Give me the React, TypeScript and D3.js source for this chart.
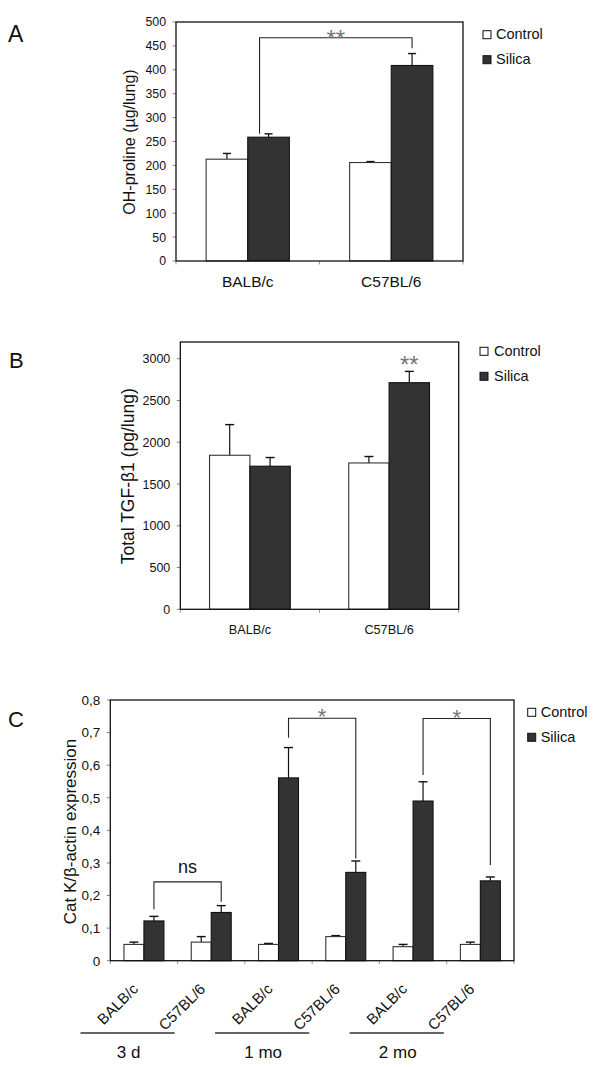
import React from "react";
import * as d3 from "d3";

// ---------- data ----------
const seriesNames = ["Control", "Silica"];

// Panel A: OH-proline
const strainsA = ["BALB/c", "C57BL/6"];
const hypControl = [213, 206];
const hypControlErr = [12, 2];
const hypSilica = [259, 409];
const hypSilicaErr = [7, 25];
const hypTicks = [0, 50, 100, 150, 200, 250, 300, 350, 400, 450, 500];
const hypTickLabels = ["0", "50", "100", "150", "200", "250", "300", "350", "400", "450", "500"];
const hypBrackets = [{ from: 0, to: 1, top: 467, leftEnd: 266, rightEnd: 445, label: "**" }];

// Panel B: TGF-beta1
const strainsB = ["BALB/c", "C57BL/6"];
const tgfControl = [1844, 1752];
const tgfControlErr = [367, 77];
const tgfSilica = [1713, 2713];
const tgfSilicaErr = [104, 135];
const tgfTicks = [0, 500, 1000, 1500, 2000, 2500, 3000];
const tgfTickLabels = ["0", "500", "1000", "1500", "2000", "2500", "3000"];
const tgfStars = [{ cat: 1, value: 3004, label: "**" }];

// Panel C: Cat K
const catKStrains = ["BALB/c", "C57BL/6", "BALB/c", "C57BL/6", "BALB/c", "C57BL/6"];
const catKTimes = ["3 d", "1 mo", "2 mo"];
const catKControl = [0.05, 0.057, 0.05, 0.074, 0.043, 0.05];
const catKControlErr = [0.007, 0.017, 0.003, 0.003, 0.007, 0.007];
const catKSilica = [0.122, 0.148, 0.561, 0.271, 0.49, 0.245];
const catKSilicaErr = [0.014, 0.021, 0.093, 0.035, 0.059, 0.012];
const catKTicks = [0, 0.1, 0.2, 0.3, 0.4, 0.5, 0.6, 0.7, 0.8];
const catKTickLabels = ["0", "0,1", "0,2", "0,3", "0,4", "0,5", "0,6", "0,7", "0,8"];
const catKBrackets = [
  { from: 0, to: 1, top: 0.242, leftEnd: 0.158, rightEnd: 0.181, label: "ns" },
  { from: 2, to: 3, top: 0.744, leftEnd: 0.684, rightEnd: 0.314, label: "*" },
  { from: 4, to: 5, top: 0.743, leftEnd: 0.57, rightEnd: 0.294, label: "*" },
];

// ---------- style ----------
const FONT = "'Liberation Sans', Arial, Helvetica, sans-serif";
const DARK = "#333333";

type Box = { x0: number; x1: number; y0: number; y1: number };

function makeScales(cats: string[], box: Box, max: number, pad: number) {
  const x = d3
    .scaleBand<number>()
    .domain(cats.map((_, i) => i))
    .range([box.x0, box.x1])
    .paddingInner(pad)
    .paddingOuter(pad / 2);
  const xs = d3.scaleBand<string>().domain(seriesNames).range([0, x.bandwidth()]);
  const y = d3.scaleLinear().domain([0, max]).range([box.y1, box.y0]);
  return { x, xs, y };
}

function Bars({ cats, control, controlErr, silica, silicaErr, sc, cap }: any) {
  const { x, xs, y } = sc;
  const series = [
    { name: "Control", v: control, e: controlErr, fill: "#ffffff", stroke: DARK },
    { name: "Silica", v: silica, e: silicaErr, fill: DARK, stroke: "#111" },
  ];
  return (
    <g>
      {series.map((s) =>
        cats.map((_: string, i: number) => {
          const bx = x(i) + xs(s.name);
          const w = xs.bandwidth();
          const cx = bx + w / 2;
          const top = y(s.v[i]);
          const et = y(s.v[i] + s.e[i]);
          return (
            <g key={s.name + i}>
              <line x1={cx} x2={cx} y1={top} y2={et} stroke="#111" strokeWidth={1.2} />
              <line x1={cx - cap / 2} x2={cx + cap / 2} y1={et} y2={et} stroke="#111" strokeWidth={1.4} />
              <rect x={bx} y={top} width={w} height={y(0) - top} fill={s.fill} stroke={s.stroke} strokeWidth={1.1} />
            </g>
          );
        })
      )}
    </g>
  );
}

function Frame({ box, sc, ticks, labels, tickFs, catCount }: any) {
  const { y } = sc;
  const step = (box.x1 - box.x0) / catCount;
  return (
    <g>
      {ticks.map((t: number, i: number) => (
        <g key={t}>
          <line x1={box.x0 - 3.5} x2={box.x0} y1={y(t)} y2={y(t)} stroke="#888" strokeWidth={1} />
          <text x={box.x0 - 10} y={y(t)} dy="0.36em" textAnchor="end" fontSize={tickFs} fill="#111">
            {labels[i]}
          </text>
        </g>
      ))}
      {d3.range(catCount + 1).map((i) => (
        <line
          key={"xt" + i}
          x1={box.x0 + i * step}
          x2={box.x0 + i * step}
          y1={box.y1}
          y2={box.y1 + 3.5}
          stroke="#999"
          strokeWidth={1}
        />
      ))}
      <rect
        x={box.x0}
        y={box.y0}
        width={box.x1 - box.x0}
        height={box.y1 - box.y0}
        fill="none"
        stroke="#111"
        strokeWidth={1.3}
      />
    </g>
  );
}

function Legend({ x, y, textX, fs }: any) {
  return (
    <g>
      {seriesNames.map((n, i) => (
        <g key={n}>
          <rect x={x} y={y + i * 25} width={8} height={8} fill={i === 0 ? "#fff" : DARK} stroke="#111" strokeWidth={1} />
          <text x={textX} y={y + i * 25 + 8.2} fontSize={fs} fill="#111">
            {n}
          </text>
        </g>
      ))}
    </g>
  );
}

function Brackets({ list, sc, fs, labelGap, dxLeft }: any) {
  const { x, xs, y } = sc;
  const center = (i: number) => x(i) + xs("Silica") + xs.bandwidth() / 2;
  return (
    <g>
      {list.map((b: any, k: number) => {
        const lx = center(b.from) + (dxLeft || 0);
        const rx = center(b.to);
        const ty = y(b.top);
        return (
          <g key={k}>
            <path d={`M${lx},${y(b.leftEnd)}V${ty}H${rx}V${y(b.rightEnd)}`} fill="none" stroke="#222" strokeWidth={1.1} />
            <text
              x={(lx + rx) / 2}
              y={ty - labelGap}
              textAnchor="middle"
              fontSize={fs}
              fill={b.label === "ns" ? "#111" : "#777"}
            >
              {b.label}
            </text>
          </g>
        );
      })}
    </g>
  );
}

export default function App() {
  const boxA: Box = { x0: 176, x1: 463, y0: 22, y1: 261 };
  const scA = makeScales(strainsA, boxA, 500, 0.42);
  const boxB: Box = { x0: 180.3, x1: 458.7, y0: 342, y1: 609.3 };
  const scB = makeScales(strainsB, boxB, 3200, 0.42);
  const boxC: Box = { x0: 110.3, x1: 514, y0: 700, y1: 960.7 };
  const scC = makeScales(catKStrains, boxC, 0.8, 0.406);
  const stepC = (boxC.x1 - boxC.x0) / catKStrains.length;

  return (
    <svg
      width={600}
      height={1067}
      style={{ position: "absolute", left: 0, top: 0, background: "#fff" }}
      fontFamily={FONT}
    >
      <rect x={0} y={0} width={600} height={1067} fill="#fff" />

      {/* ---------- A ---------- */}
      <text x={8} y={42.3} fontSize={23} fill="#111">A</text>
      <Bars cats={strainsA} control={hypControl} controlErr={hypControlErr} silica={hypSilica} silicaErr={hypSilicaErr} sc={scA} cap={8} />
      <Frame box={boxA} sc={scA} ticks={hypTicks} labels={hypTickLabels} tickFs={12.3} catCount={strainsA.length} />
      <Brackets list={hypBrackets} sc={scA} fs={24} labelGap={-9.5} dxLeft={-9} />
      {strainsA.map((s, i) => (
        <text key={s} x={scA.x(i)! + scA.x.bandwidth() / 2} y={287.3} textAnchor="middle" fontSize={15.5} fill="#111">
          {s}
        </text>
      ))}
      <text transform={`translate(129.5,142) rotate(-90)`} textAnchor="middle" dy="0.35em" fontSize={16} fill="#111">
        OH-proline (µg/lung)
      </text>
      <Legend x={483} y={30.7} textX={496} fs={14.5} />

      {/* ---------- B ---------- */}
      <text x={9} y={368.3} fontSize={22} fill="#111">B</text>
      <Bars cats={strainsB} control={tgfControl} controlErr={tgfControlErr} silica={tgfSilica} silicaErr={tgfSilicaErr} sc={scB} cap={9} />
      <Frame box={boxB} sc={scB} ticks={tgfTicks} labels={tgfTickLabels} tickFs={12.5} catCount={strainsB.length} />
      {tgfStars.map((s, k) => (
        <text
          key={k}
          x={scB.x(s.cat)! + scB.xs("Silica")! + scB.xs.bandwidth() / 2}
          y={scB.y(s.value) + 14.2}
          textAnchor="middle"
          fontSize={24}
          fill="#777"
        >
          {s.label}
        </text>
      ))}
      {strainsB.map((s, i) => (
        <text key={s} x={scB.x(i)! + scB.x.bandwidth() / 2} y={634} textAnchor="middle" fontSize={12.7} fill="#111">
          {s}
        </text>
      ))}
      <text transform={`translate(128,476.3) rotate(-90)`} textAnchor="middle" dy="0.35em" fontSize={17.5} fill="#111">
        Total TGF-β1 (pg/lung)
      </text>
      <Legend x={480} y={347.3} textX={494} fs={14.5} />

      {/* ---------- C ---------- */}
      <text x={8} y={727.3} fontSize={22} fill="#111">C</text>
      <Bars cats={catKStrains} control={catKControl} controlErr={catKControlErr} silica={catKSilica} silicaErr={catKSilicaErr} sc={scC} cap={9} />
      <Frame box={boxC} sc={scC} ticks={catKTicks} labels={catKTickLabels} tickFs={13.5} catCount={catKStrains.length} />
      <Brackets list={catKBrackets.filter((b) => b.label === "ns")} sc={scC} fs={18} labelGap={8.7} />
      <Brackets list={catKBrackets.filter((b) => b.label !== "ns")} sc={scC} fs={22} labelGap={-6} />
      {catKStrains.map((s, i) => {
        const cx = boxC.x0 + (i + 0.5) * stepC - 5;
        return (
          <text key={"r" + i} transform={`translate(${cx},990) rotate(-45)`} textAnchor="end" fontSize={15} fill="#111">
            {s}
          </text>
        );
      })}
      {catKTimes.map((t, g) => {
        const gc = boxC.x0 + (g * 2 + 1) * stepC - 50;
        const half = stepC * 0.7;
        return (
          <g key={t}>
            <line x1={gc - half} x2={gc + half} y1={1033} y2={1033} stroke="#333" strokeWidth={1.3} />
            <text x={gc + 1} y={1058.3} textAnchor="middle" fontSize={17} fill="#111">
              {t}
            </text>
          </g>
        );
      })}
      <text transform={`translate(70.3,831.5) rotate(-90)`} textAnchor="middle" dy="0.35em" fontSize={17} fill="#111">
        Cat K/β-actin expression
      </text>
      <Legend x={527.7} y={708.3} textX={540.7} fs={14.5} />
    </svg>
  );
}
